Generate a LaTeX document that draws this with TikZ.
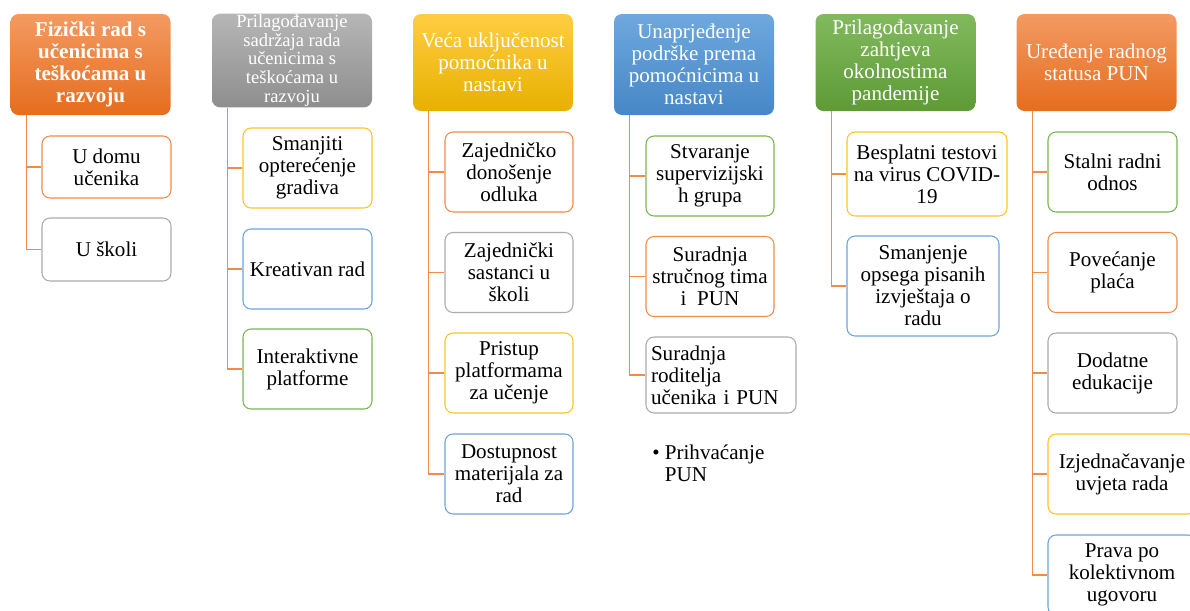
\documentclass[tikz,border=0pt]{standalone}
\usepackage{fontspec}
\setmainfont{Liberation Serif}
\usepackage{xcolor}
\usepackage{tikz}
\definecolor{orTop}{HTML}{F39A62}
\definecolor{orBot}{HTML}{E56D1E}
\definecolor{grTop}{HTML}{B6B6B6}
\definecolor{grBot}{HTML}{8E8E8E}
\definecolor{ylTop}{HTML}{FFCD43}
\definecolor{ylBot}{HTML}{E8B000}
\definecolor{blTop}{HTML}{6EA8DD}
\definecolor{blBot}{HTML}{4787C7}
\definecolor{gnTop}{HTML}{81BA5E}
\definecolor{gnBot}{HTML}{5E9A36}
\definecolor{orLine}{HTML}{F08B4C}
\definecolor{grLine}{HTML}{ABABAB}
\definecolor{ylLine}{HTML}{FFC423}
\definecolor{blLine}{HTML}{6AA4DA}
\definecolor{gnLine}{HTML}{7AB552}

\begin{document}
\begin{tikzpicture}[x=0.75pt, y=-0.75pt,
	head/.style={rounded corners=6pt, minimum width=120pt, minimum height=72.75pt, inner sep=1pt, align=center, text=white, font=\fontsize{15.8}{16.5}\selectfont},
	item/.style={draw, line width=0.8pt, rounded corners=6pt, fill=white, minimum width=96pt, minimum height=60pt, inner sep=3pt, align=center, font=\fontsize{15.8}{16.5}\selectfont},
	hOrange/.style={top color=orTop, bottom color=orBot},
	hGray/.style={top color=grTop, bottom color=grBot},
	hYellow/.style={top color=ylTop, bottom color=ylBot},
	hBlue/.style={top color=blTop, bottom color=blBot},
	hGreen/.style={top color=gnTop, bottom color=gnBot},
	link/.style={draw=orLine, line width=1.1pt}]
	\useasboundingbox (0,0) rectangle (1190,611);
	\clip (0,0) rectangle (1190,611);

	% headers
	\node[head, hOrange, minimum height=75.75pt, font=\fontsize{15.8}{16.5}\selectfont\bfseries] (hA) at (90.5,64.5) {Fizički rad s\\učenicima s\\teškoćama u\\razvoju};
	\node[head, hGray, minimum height=69.75pt, font=\fontsize{13.9}{13.9}\selectfont] (hB) at (292,60.5) {Prilagođavanje\\sadržaja rada\\učenicima s\\teškoćama u\\razvoju};
	\node[head, hYellow] (hC) at (493,62.5) {Veća uključenost\\pomoćnika u\\nastavi};
	\node[head, hBlue, minimum height=75.75pt] (hD) at (694,64.5) {Unaprjeđenje\\podrške prema\\pomoćnicima u\\nastavi};
	\node[head, hGreen] (hE) at (895.5,62.5) {Prilagođavanje\\zahtjeva\\okolnostima\\pandemije};
	\node[head, hOrange] (hF) at (1096.5,62.5) {Uređenje radnog\\statusa PUN};

	% column A
	\node[item, draw=orLine, minimum width=96.75pt, minimum height=46.5pt] (cA1) at (106.5,167) {U domu\\učenika};
	\node[item, draw=grLine, minimum width=96.75pt, minimum height=47.25pt] (cA2) at (106.5,249.5) {U školi};
	% column B
	\node[item, draw=ylLine, minimum width=96.75pt] (cB1) at (307.5,168) {Smanjiti\\opterećenje\\gradiva};
	\node[item, draw=blLine, minimum width=96.75pt] (cB2) at (307.5,269) {Kreativan rad};
	\node[item, draw=gnLine, minimum width=96.75pt] (cB3) at (307.5,369) {Interaktivne\\platforme};
	% column C
	\node[item, draw=orLine] (cC1) at (509,172) {Zajedničko\\donošenje\\odluka};
	\node[item, draw=grLine] (cC2) at (509,272.5) {Zajednički\\sastanci u\\školi};
	\node[item, draw=ylLine] (cC3) at (509,373) {Pristup\\platformama\\za učenje};
	\node[item, draw=blLine] (cC4) at (509,474) {Dostupnost\\materijala za\\rad};
	% column D
	\node[item, draw=gnLine] (cD1) at (710,176) {Stvaranje\\supervizijski\\h grupa};
	\node[item, draw=orLine] (cD2) at (710,276.5) {Suradnja\\stručnog tima\\i~~PUN};
	\node[item, draw=grLine, minimum width=112.5pt, minimum height=57pt, text width=105pt, align=left] (cD3) at (721,375) {Suradnja\\roditelja\\učenika i PUN};
	\node[anchor=north west, inner sep=0pt, align=left, font=\fontsize{15.8}{16.5}\selectfont] (note) at (652,445) {\textbullet\ Prihvaćanje\\\phantom{\textbullet\ }PUN};
	% column E
	\node[item, draw=ylLine, minimum width=120pt, minimum height=63pt] (cE1) at (927,174) {Besplatni testovi\\na virus COVID-\\19};
	\node[item, draw=blLine, minimum width=114pt, minimum height=75pt] (cE2) at (923,286) {Smanjenje\\opsega pisanih\\izvještaja o\\radu};
	% column F
	\node[item, draw=gnLine, minimum width=96.75pt] (cF1) at (1112.5,172) {Stalni radni\\odnos};
	\node[item, draw=orLine, minimum width=96.75pt] (cF2) at (1112.5,272.5) {Povećanje\\plaća};
	\node[item, draw=grLine, minimum width=96.75pt] (cF3) at (1112.5,373) {Dodatne\\edukacije};
	\node[item, draw=ylLine, minimum width=111pt] (cF4) at (1122,474) {Izjednačavanje\\uvjeta rada};
	\node[item, draw=blLine, minimum width=111pt] (cF5) at (1122,575) {Prava po\\kolektivnom\\ugovoru};

	% connectors
	\coordinate (tA) at ([xshift=12pt]hA.south west);
	\coordinate (tB) at ([xshift=12pt]hB.south west);
	\coordinate (tC) at ([xshift=12pt]hC.south west);
	\coordinate (tD) at ([xshift=12pt]hD.south west);
	\coordinate (tE) at ([xshift=12pt]hE.south west);
	\coordinate (tF) at ([xshift=12pt]hF.south west);
	\foreach \c in {cA1,cA2} \draw[link] (tA) |- (\c.west);
	\foreach \c in {cB1,cB2,cB3} \draw[link] (tB) |- (\c.west);
	\foreach \c in {cC1,cC2,cC3,cC4} \draw[link] (tC) |- (\c.west);
	\foreach \c in {cD1,cD2,cD3} \draw[link] (tD) |- (\c.west);
	\foreach \c in {cE1,cE2} \draw[link] (tE) |- (\c.west);
	\foreach \c in {cF1,cF2,cF3,cF4,cF5} \draw[link] (tF) |- (\c.west);
\end{tikzpicture}
\end{document}
